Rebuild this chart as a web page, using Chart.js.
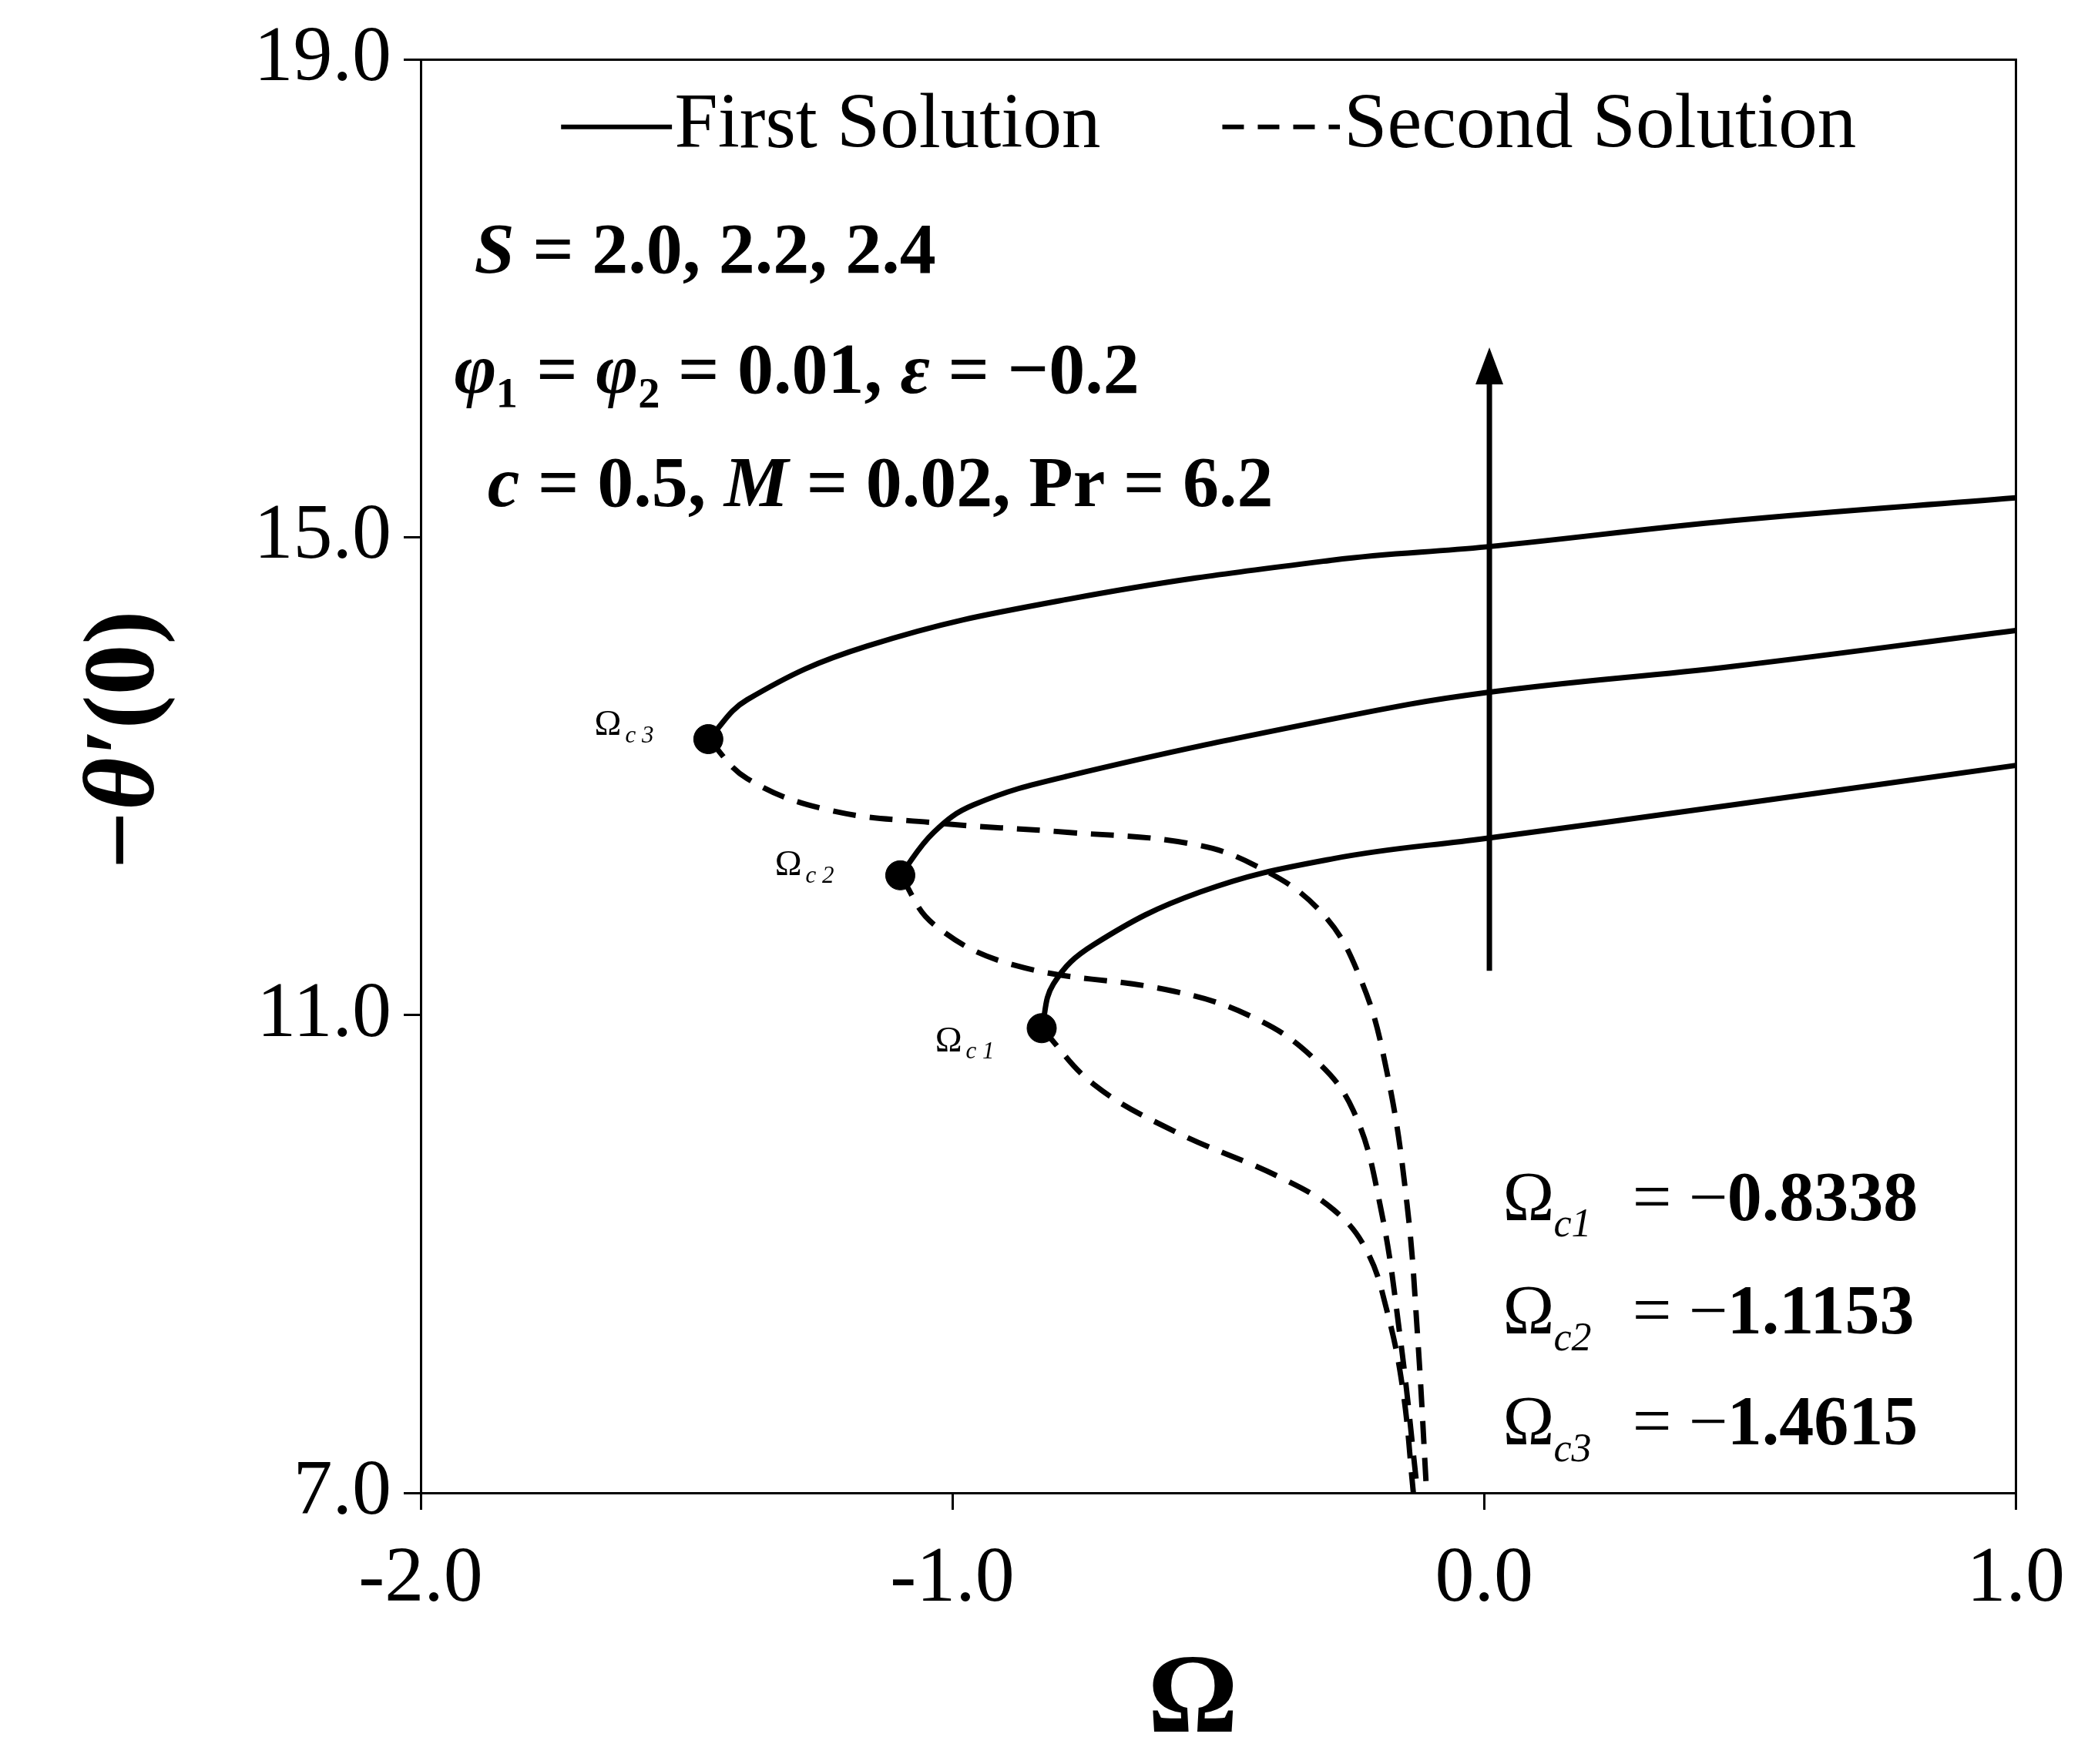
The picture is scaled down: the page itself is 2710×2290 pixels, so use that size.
<!DOCTYPE html>
<html>
<head>
<meta charset="utf-8">
<script src="https://cdn.jsdelivr.net/npm/chart.js@4.4.1/dist/chart.umd.min.js"></script>
<style>
  body { margin: 0; background: #fff; }
  #wrap { width: 2710px; height: 2290px; }
</style>
</head>
<body>
<div id="wrap"><canvas id="chart" width="2710" height="2290"></canvas></div>
<script>
// First solution branches (S = 2.0, 2.2, 2.4)
const first1X = [-0.832, -0.81, -0.734, -0.534, -0.283, 0.005, 0.469, 1.0];
const first1Y = [10.89, 11.26, 11.59, 12.03, 12.31, 12.48, 12.76, 13.09];
const first2X = [-1.098, -1.035, -0.96, -0.784, -0.283, 0.005, 0.469, 1.0];
const first2Y = [12.17, 12.53, 12.76, 13.0, 13.48, 13.70, 13.92, 14.22];
const first3X = [-1.459, -1.386, -1.16, -0.784, -0.283, 0.005, 0.469, 1.0];
const first3Y = [13.31, 13.64, 14.09, 14.48, 14.81, 14.92, 15.14, 15.33];

// Second solution branches
const second1X = [-0.832, -0.734, -0.584, -0.383, -0.283, -0.221, -0.183, -0.153, -0.133];
const second1Y = [10.89, 10.42, 10.03, 9.64, 9.37, 9.03, 8.53, 7.87, 7.0];
const second2X = [-1.098, -1.035, -0.885, -0.584, -0.434, -0.321, -0.246, -0.196, -0.158, -0.125];
const second2Y = [12.17, 11.76, 11.42, 11.2, 10.98, 10.64, 10.2, 9.42, 8.31, 7.0];
const second3X = [-1.459, -1.386, -1.236, -1.035, -0.784, -0.559, -0.434, -0.308, -0.233, -0.183, -0.145, -0.125, -0.108];
const second3Y = [13.31, 12.98, 12.72, 12.61, 12.53, 12.44, 12.26, 11.87, 11.31, 10.53, 9.42, 8.31, 7.0];

// Critical points
const critX = [-0.832, -1.098, -1.459];
const critY = [10.89, 12.17, 13.31];

const xTicks = [-2.0, -1.0, 0.0, 1.0];
const yTicks = [7.0, 11.0, 15.0, 19.0];

const arrowX = 0.01, arrowY0 = 11.37, arrowY1 = 16.59;

const S = 2710 / 1563;
const serif = '"Liberation Serif", "DejaVu Serif", serif';

function pts(xs, ys) { return xs.map((x, i) => ({ x: x, y: ys[i] })); }
function line(xs, ys, dashed) {
    return {
        data: pts(xs, ys), showLine: true, borderColor: '#000', borderWidth: 7,
        borderDash: dashed ? [30, 18] : [], pointRadius: 0, tension: 0.4, fill: false
    };
}

// draws a run of [text, fontStyle] pieces left to right
function runs(ctx, x, y, parts, size) {
    parts.forEach(p => {
        ctx.font = `${p[1]} ${Math.round(size * S)}px ${serif}`;
        ctx.fillText(p[0], x, y);
        x += ctx.measureText(p[0]).width;
    });
}

const overlay = {
    id: 'overlay',
    afterDatasetsDraw(chart) {
        const ctx = chart.ctx, xs = chart.scales.x, ys = chart.scales.y;
        ctx.save();
        ctx.fillStyle = '#000';
        ctx.strokeStyle = '#000';
        // arrow
        const ax = xs.getPixelForValue(arrowX);
        const a0 = ys.getPixelForValue(arrowY0), a1 = ys.getPixelForValue(arrowY1);
        ctx.lineWidth = 7;
        ctx.beginPath(); ctx.moveTo(ax, a0); ctx.lineTo(ax, a1 + 40); ctx.stroke();
        ctx.beginPath(); ctx.moveTo(ax, a1); ctx.lineTo(ax - 18, a1 + 48); ctx.lineTo(ax + 18, a1 + 48); ctx.closePath(); ctx.fill();

        // legend
        ctx.lineWidth = 6;
        ctx.beginPath(); ctx.moveTo(420 * S, 95 * S); ctx.lineTo(503 * S, 95 * S); ctx.stroke();
        ctx.setLineDash([28, 18]);
        ctx.beginPath(); ctx.moveTo(915 * S, 95 * S); ctx.lineTo(1003 * S, 95 * S); ctx.stroke();
        ctx.setLineDash([]);
        ctx.textBaseline = 'middle';
        ctx.textAlign = 'left';
        ctx.font = `${Math.round(58 * S)}px ${serif}`;
        ctx.fillText('First Solution', 505 * S, 95 * S);
        ctx.fillText('Second Solution', 1006 * S, 95 * S);

        // parameter text
        const B = 'bold', BI = 'bold italic';
        runs(ctx, 355 * S, 190 * S, [['S', BI], [' = 2.0, 2.2, 2.4', B]], 54);
        runs(ctx, 340 * S, 280 * S, [['\u03c6', BI], ['\u2081', B], [' = ', B], ['\u03c6', BI], ['\u2082', B], [' = 0.01, ', B], ['\u03b5', BI], [' = \u22120.2', B]], 54);
        runs(ctx, 365 * S, 365 * S, [['c', BI], [' = 0.5, ', B], ['M', BI], [' = 0.02, Pr = 6.2', B]], 54);

        // critical values
        const rows = [['1', '0.8338', 900], ['2', '1.1153', 985], ['3', '1.4615', 1068]];
        rows.forEach(r => {
            ctx.font = `${Math.round(52 * S)}px ${serif}`;
            ctx.fillText('\u03a9', 1125 * S, r[2] * S);
            ctx.font = `italic ${Math.round(30 * S)}px ${serif}`;
            ctx.fillText('c' + r[0], 1163 * S, (r[2] + 18) * S);
            ctx.font = `${Math.round(52 * S)}px ${serif}`;
            ctx.fillText('= \u2212', 1222 * S, r[2] * S);
            ctx.font = `bold ${Math.round(52 * S)}px ${serif}`;
            ctx.fillText(r[1], 1293 * S, r[2] * S);
        });

        // small point labels
        const labs = [['1', 700, 780], ['2', 580, 648], ['3', 445, 543]];
        labs.forEach(l => {
            ctx.font = `${Math.round(27 * S)}px ${serif}`;
            ctx.fillText('\u03a9', l[1] * S, l[2] * S);
            ctx.font = `italic ${Math.round(18 * S)}px ${serif}`;
            ctx.fillText('c ' + l[0], (l[1] + 23) * S, (l[2] + 8) * S);
        });

        // axis titles
        ctx.textAlign = 'center';
        ctx.font = `bold ${Math.round(84 * S)}px ${serif}`;
        ctx.fillText('\u03a9', 893 * S, 1275 * S);
        ctx.translate(95 * S, 555 * S);
        ctx.rotate(-Math.PI / 2);
        ctx.textAlign = 'left';
        const tw = (() => {
            ctx.font = `bold italic ${Math.round(76 * S)}px ${serif}`;
            const w1 = ctx.measureText('\u2212\u03b8\u2032').width;
            ctx.font = `bold ${Math.round(76 * S)}px ${serif}`;
            return w1 + ctx.measureText('(0)').width;
        })();
        runs(ctx, -tw / 2, 0, [['\u2212\u03b8\u2032', BI], ['(0)', B]], 76);
        ctx.restore();
    }
};

new Chart(document.getElementById('chart'), {
    type: 'scatter',
    data: {
        datasets: [
            line(first1X, first1Y, false), line(first2X, first2Y, false), line(first3X, first3Y, false),
            line(second1X, second1Y, true), line(second2X, second2Y, true), line(second3X, second3Y, true),
            { data: pts(critX, critY), pointRadius: 19, pointBackgroundColor: '#000', pointBorderColor: '#000', showLine: false }
        ]
    },
    options: {
        responsive: false, animation: false,
        layout: { padding: { top: 66, right: 88, left: 0, bottom: 0 } },
        plugins: { legend: { display: false }, tooltip: { enabled: false } },
        scales: {
            x: {
                type: 'linear', min: -2, max: 1,
                afterFit: s => { s.height = 352; },
                afterBuildTicks: s => { s.ticks = xTicks.map(v => ({ value: v })); },
                grid: { display: true, drawOnChartArea: false, drawTicks: true, tickLength: 22, color: '#000', lineWidth: 3 },
                border: { color: '#000', width: 3 },
                ticks: { color: '#000', padding: 30, font: { family: serif, size: 102 }, callback: v => v.toFixed(1) }
            },
            y: {
                type: 'linear', min: 7, max: 19,
                afterFit: s => { s.width = 546; },
                afterBuildTicks: s => { s.ticks = yTicks.map(v => ({ value: v })); },
                grid: { display: true, drawOnChartArea: false, drawTicks: true, tickLength: 22, color: '#000', lineWidth: 3 },
                border: { color: '#000', width: 3 },
                ticks: { color: '#000', padding: 16, font: { family: serif, size: 102 }, callback: v => v.toFixed(1) }
            },
            x2: { type: 'linear', position: 'top', min: -2, max: 1, ticks: { display: false }, grid: { display: false }, border: { color: '#000', width: 3 }, afterFit: s => { s.height = 0; } },
            y2: { type: 'linear', position: 'right', min: 7, max: 19, ticks: { display: false }, grid: { display: false }, border: { color: '#000', width: 3 }, afterFit: s => { s.width = 0; } }
        }
    },
    plugins: [overlay]
});
</script>
</body>
</html>
